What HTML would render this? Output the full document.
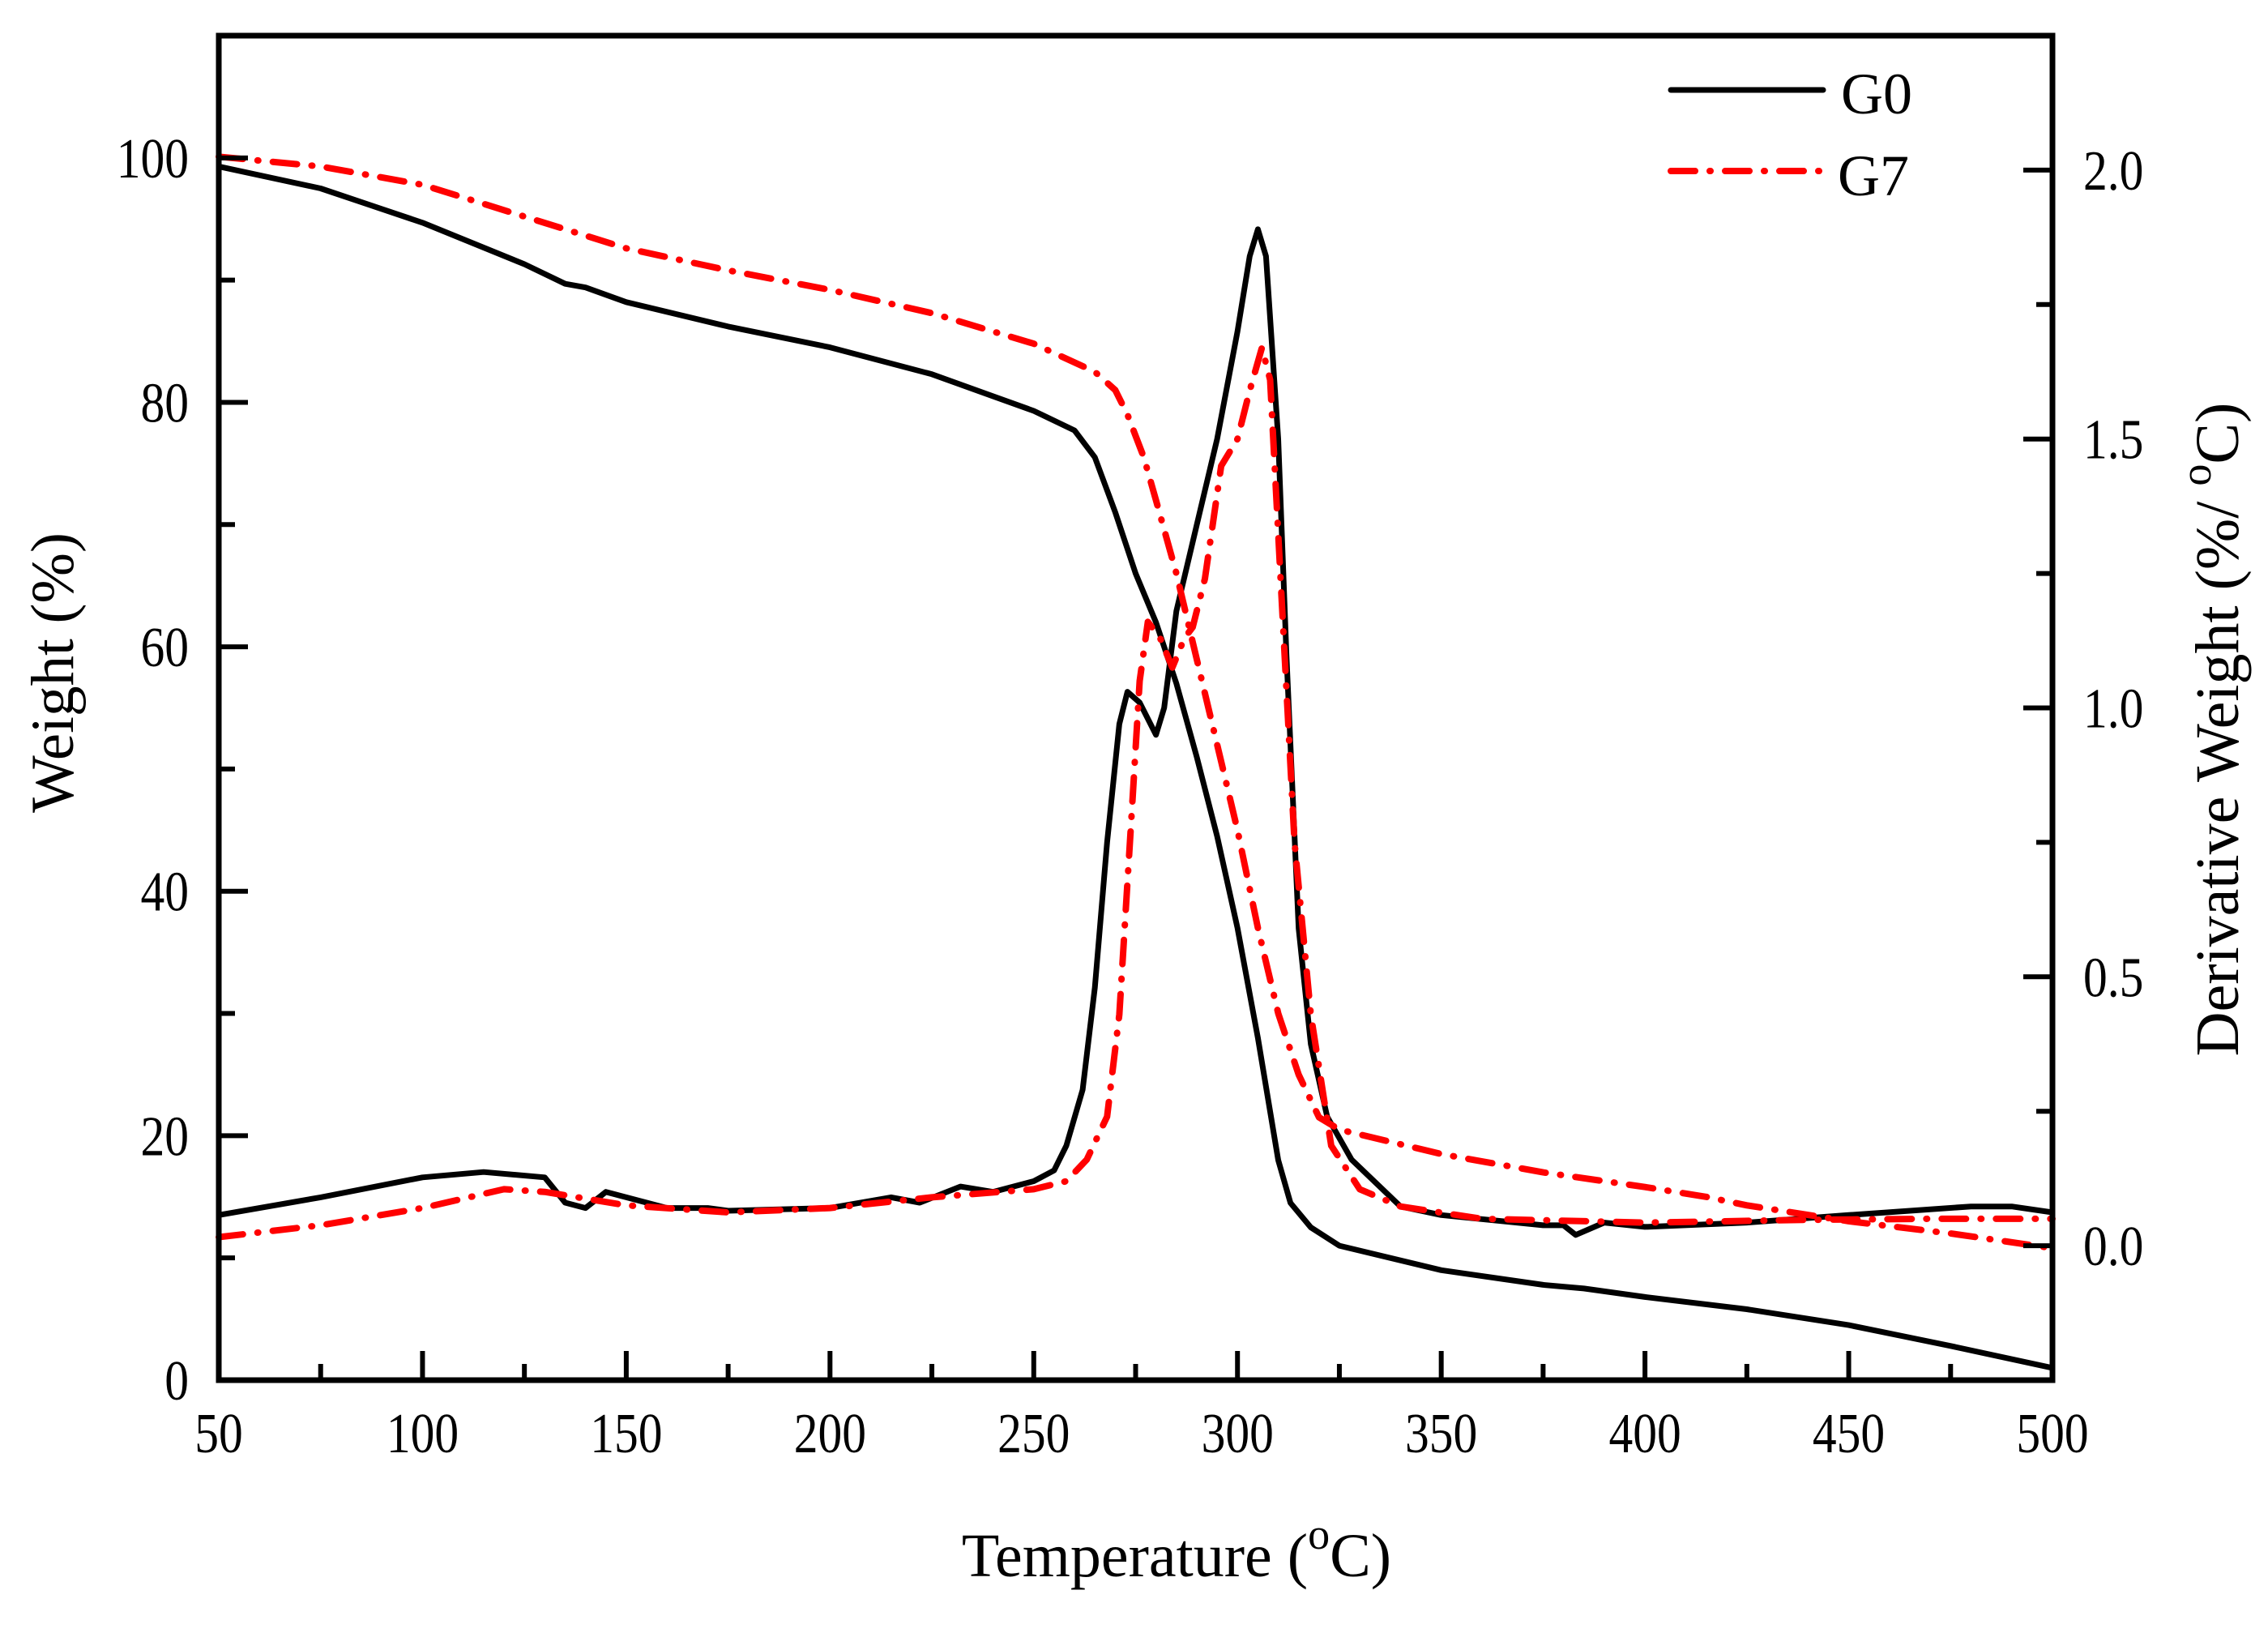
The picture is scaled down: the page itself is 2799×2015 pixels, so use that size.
<!DOCTYPE html>
<html><head><meta charset="utf-8"><style>
html,body{margin:0;padding:0;background:#fff;}
svg{display:block;font-family:"Liberation Serif",serif;}
</style></head><body>
<svg id="chart" width="2799" height="2015" viewBox="0 0 2799 2015" xmlns="http://www.w3.org/2000/svg">
<rect width="2799" height="2015" fill="#fff"/>
<g id="marks"></g>
<g id="axes"></g>
<text x="1452" y="1945" font-size="76" text-anchor="middle">Temperature (<tspan dy="-34" font-size="54">o</tspan><tspan dy="34">C)</tspan></text>
<text transform="translate(90,830) rotate(-90)" font-size="75" text-anchor="middle">Weight (%)</text>
<text transform="translate(2762,900) rotate(-90)" font-size="76" text-anchor="middle">Derivative Weight (%/ <tspan dy="-34" font-size="54">o</tspan><tspan dy="34">C)</tspan></text>
<g>
<line x1="2062" y1="111" x2="2250" y2="111" stroke="#000" stroke-width="7" stroke-linecap="round"/>
<text x="2272" y="140" font-size="72">G0</text>
<line x1="2062" y1="211" x2="2250" y2="211" stroke="#f00" stroke-width="8" stroke-linecap="round" stroke-dasharray="30 18 1 18"/>
<text x="2268" y="241" font-size="72">G7</text>
</g>
</svg>
<script>
const xTicks = [50,100,150,200,250,300,350,400,450,500];
const yLeftTicks = [0,20,40,60,80,100];
const yRightTicks = [0.0,0.5,1.0,1.5,2.0];
const yRightLabels = ["0.0","0.5","1.0","1.5","2.0"];

const g0WeightT = [50,75,100,125,135,140,150,175,200,225,240,250,260,265,270,275,280,285,290,295,300,305,310,313,318,325,350,375,385,400,425,450,475,500];
const g0Weight  = [99.3,97.5,94.7,91.3,89.7,89.4,88.2,86.2,84.5,82.3,80.5,79.3,77.7,75.5,71,66,62,57,51,44.5,37,28,18,14.5,12.5,11,9,7.8,7.5,6.8,5.8,4.5,2.8,1.0];

const g7WeightT = [50,75,100,125,150,175,200,225,250,265,270,273,277,280,285,290,295,300,305,310,315,320,325,350,375,400,415,425,450,475,500];
const g7Weight  = [100.1,99.3,97.8,95.2,92.6,90.8,89.2,87.3,84.8,82.5,81,79,75.5,72,66,59,52,45,37,30,25,21.5,20.5,18.5,17,15.8,15,14.3,13,12,10.8];

const g0DerivT = [50,75,100,115,130,135,140,145,150,160,170,175,200,215,222,232,240,250,255,258,262,265,268,271,273,276,280,282,285,290,295,300,303,305,307,310,312,315,318,322,328,340,350,375,380,383,390,400,425,450,480,490,500];
const g0Deriv  = [0.057,0.09,0.127,0.137,0.127,0.08,0.07,0.1,0.09,0.07,0.07,0.065,0.07,0.09,0.08,0.11,0.1,0.12,0.14,0.186,0.29,0.48,0.75,0.97,1.03,1.01,0.95,1.0,1.18,1.34,1.5,1.7,1.84,1.89,1.84,1.5,1.1,0.59,0.375,0.24,0.16,0.073,0.057,0.038,0.038,0.02,0.043,0.035,0.043,0.057,0.073,0.073,0.062];

const g7DerivT = [50,75,100,120,130,150,175,200,225,250,258,263,268,271,274,276,278,281,284,287,289,292,296,300,303,306,308,311,314,318,323,330,340,360,400,440,470,500];
const g7Deriv  = [0.016,0.038,0.07,0.105,0.1,0.075,0.062,0.07,0.09,0.105,0.12,0.16,0.24,0.43,0.8,1.05,1.16,1.13,1.075,1.13,1.15,1.24,1.45,1.5,1.59,1.67,1.61,1.18,0.75,0.43,0.186,0.105,0.073,0.05,0.043,0.048,0.05,0.05];

const L=270,R=2533,T=44,B=1703;
const xS = t => L + (t-50)/450*(R-L);
const yL = w => B - (w-0)/110*(B-T);
const yR = d => B - (d+0.25)/2.5*(B-T);
const NS="http://www.w3.org/2000/svg";
const marks=document.getElementById('marks'), axes=document.getElementById('axes');
function mk(tag,attrs,parent){const e=document.createElementNS(NS,tag);for(const k in attrs)e.setAttribute(k,attrs[k]);parent.appendChild(e);return e;}

function series(ts,vs,yf,color,dash,name){
  const d=ts.map((t,i)=>(i?'L':'M')+xS(t).toFixed(1)+','+yf(vs[i]).toFixed(1)).join(' ');
  const p=mk('path',{d:d,fill:'none',stroke:color,'stroke-width':dash?8:7,'stroke-linejoin':'round','stroke-linecap':'round'},marks);
  if(dash)p.setAttribute('stroke-dasharray',dash);
  
  
}
series(g0WeightT,g0Weight,yL,'#000',null,'g0-weight-line');
series(g0DerivT,g0Deriv,yR,'#000',null,'g0-derivative-line');
series(g7WeightT,g7Weight,yL,'#f00','30 18 1 18','g7-weight-line');
series(g7DerivT,g7Deriv,yR,'#f00','30 18 1 18','g7-derivative-line');

const frame=mk('rect',{x:L,y:T,width:R-L,height:B-T,fill:'none',stroke:'#000','stroke-width':7},axes);



function label(x,y,anchor,str,name){
  const tx=mk('text',{x:0,y:0,'font-size':70,'text-anchor':anchor,transform:'translate('+x+','+y+') scale(0.85,1)'},axes);
  tx.textContent=str;
  
  
}

for(let t=50;t<=500;t+=25){
  const major=(t%50===0);
  const tk=mk('line',{x1:xS(t),x2:xS(t),y1:B,y2:B-(major?36:20),stroke:'#000','stroke-width':6},axes);
  
  
}
xTicks.forEach(t=>label(xS(t),1792,'middle',String(t),'x-tick-label'));
for(let w=0;w<=110;w+=10){
  const major=(w%20===0);
  const tk=mk('line',{x1:L,x2:L+(major?36:20),y1:yL(w),y2:yL(w),stroke:'#000','stroke-width':6},axes);
  
  
}
yLeftTicks.forEach(w=>label(233,yL(w)+24,'end',String(w),'y-left-tick-label'));
for(let d=-0.25;d<=2.26;d+=0.25){
  const major=(Math.abs(d*2-Math.round(d*2))<1e-6);
  const tk=mk('line',{x1:R,x2:R-(major?36:20),y1:yR(d),y2:yR(d),stroke:'#000','stroke-width':6},axes);
  
  
}
yRightTicks.forEach((d,i)=>label(2571,yR(d)+24,'start',yRightLabels[i],'y-right-tick-label'));
</script>
</body></html>
